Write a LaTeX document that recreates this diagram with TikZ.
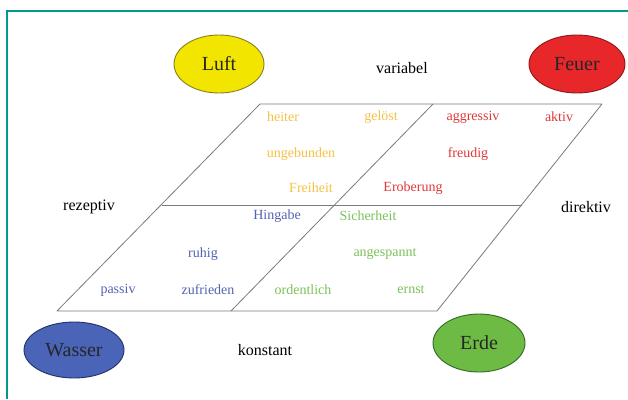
\documentclass[tikz,border=0pt]{standalone}
\usepackage{fontspec}
\setmainfont{Liberation Serif}
\usetikzlibrary{shapes.geometric}

\definecolor{framecol}{HTML}{00998A}
\definecolor{gridcol}{HTML}{7A7A7A}
\definecolor{luftfill}{HTML}{F2E600}
\definecolor{luftline}{HTML}{8A7F20}
\definecolor{feuerfill}{HTML}{E8272A}
\definecolor{feuerline}{HTML}{8A1A1A}
\definecolor{wasserfill}{HTML}{4A64B8}
\definecolor{wasserline}{HTML}{24306A}
\definecolor{erdefill}{HTML}{6DBB45}
\definecolor{erdeline}{HTML}{2F6A22}
\definecolor{ylab}{HTML}{F5C244}
\definecolor{rlab}{HTML}{E0383A}
\definecolor{blab}{HTML}{5463B0}
\definecolor{glab}{HTML}{7CC258}

\tikzset{
  element/.style={ellipse, draw, line width=0.9pt, inner sep=0pt,
    font=\fontsize{20}{22}\selectfont, text=black!85},
  axislabel/.style={font=\fontsize{16}{18}\selectfont, text=black},
  trait/.style={font=\fontsize{14}{16}\selectfont, inner sep=0pt},
  grid/.style={draw=gridcol, line width=0.8pt, line join=round},
}

\begin{document}
\begin{tikzpicture}[x=1pt, y=-1pt]
\useasboundingbox (0,0) rectangle (628,399);
\fill[white] (0,0) rectangle (628,399);

% teal frame (top and left edges)
\draw[framecol, line width=2pt] (7,399) -- (7,11) -- (628,11);

% corners of the quadrant parallelogram
\coordinate (tl) at (260,104);
\coordinate (tr) at (602,104);
\coordinate (br) at (437,311);
\coordinate (bl) at (57,311);
\coordinate (ml) at (162,205);
\coordinate (mr) at (521.5,205);
\coordinate (mt) at (433,104);
\coordinate (mb) at (231,311);

\draw[grid] (tl) -- (tr) -- (br) -- (bl) -- cycle;
\draw[grid] (ml) -- (mr);
\draw[grid] (mt) -- (mb);

% the four elements
\node[element, fill=luftfill, draw=luftline, minimum width=90pt, minimum height=58pt] (luft) at (219,64) {Luft};
\node[element, fill=feuerfill, draw=feuerline, minimum width=96pt, minimum height=58pt] (feuer) at (577,64) {Feuer};
\node[element, fill=wasserfill, draw=wasserline, minimum width=100pt, minimum height=56pt] (wasser) at (74,350) {Wasser};
\node[element, fill=erdefill, draw=erdeline, minimum width=92pt, minimum height=58pt] (erde) at (479,343) {Erde};

% axis labels
\node[axislabel] (variabel) at (402,68) {variabel};
\node[axislabel] (konstant) at (265,350) {konstant};
\node[axislabel] (rezeptiv) at (89,207) {rezeptiv};
\node[axislabel] (direktiv) at (586,207) {direktiv};

% Luft quadrant
\node[trait, text=ylab] (heiter) at (283,117) {heiter};
\node[trait, text=ylab] (geloest) at (381,117) {gelöst};
\node[trait, text=ylab] (ungebunden) at (301,154) {ungebunden};
\node[trait, text=ylab] (freiheit) at (311,188) {Freiheit};

% Feuer quadrant
\node[trait, text=rlab] (aggressiv) at (473,117) {aggressiv};
\node[trait, text=rlab] (aktiv) at (559,117) {aktiv};
\node[trait, text=rlab] (freudig) at (468,154) {freudig};
\node[trait, text=rlab] (eroberung) at (413,188) {Eroberung};

% Wasser quadrant
\node[trait, text=blab] (hingabe) at (277,216) {Hingabe};
\node[trait, text=blab] (ruhig) at (203,254) {ruhig};
\node[trait, text=blab] (passiv) at (118,290) {passiv};
\node[trait, text=blab] (zufrieden) at (208,290) {zufrieden};

% Erde quadrant
\node[trait, text=glab] (sicherheit) at (368,216) {Sicherheit};
\node[trait, text=glab] (angespannt) at (385,254) {angespannt};
\node[trait, text=glab] (ordentlich) at (303,290) {ordentlich};
\node[trait, text=glab] (ernst) at (411,290) {ernst};
\end{tikzpicture}
\end{document}
